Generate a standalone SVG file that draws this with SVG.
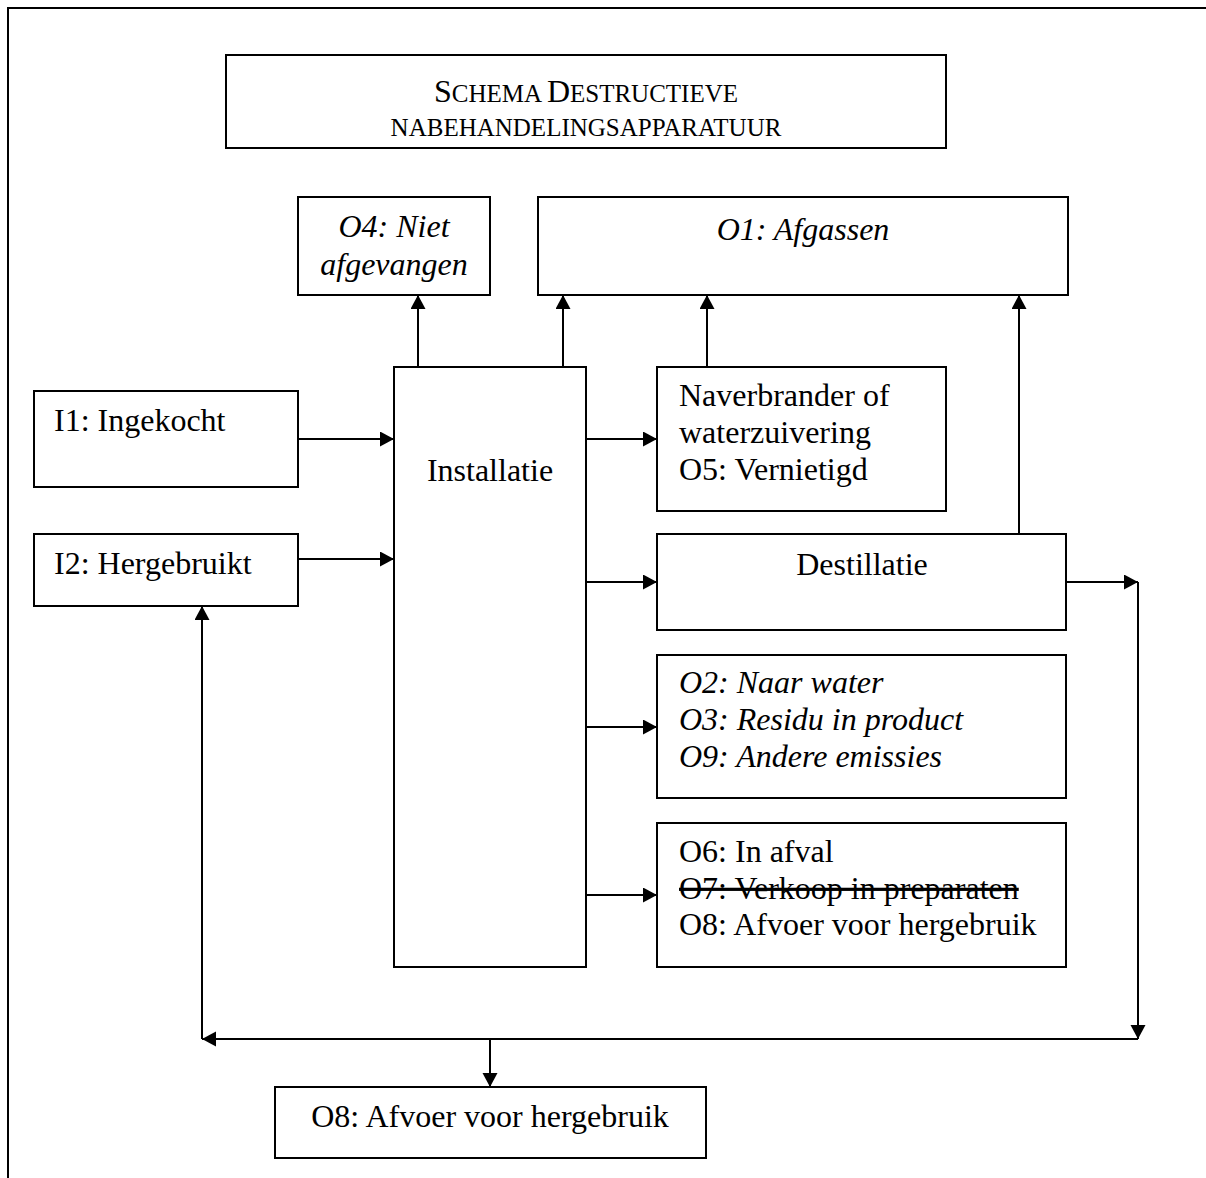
<svg xmlns="http://www.w3.org/2000/svg" width="1206" height="1178" viewBox="0 0 1206 1178">
<style>
  .box { fill: #fff; stroke: #000; stroke-width: 2; }
  .t { font-family: "Liberation Serif", "Times New Roman", serif; font-size: 32px; fill: #000; }
  .i { font-style: italic; }
  .c { text-anchor: middle; }
  .sc { font-size: 25px; }
  .conn line, .conn polyline { stroke: #000; stroke-width: 2; fill: none; }
</style>
<defs>
  <marker id="arr" markerUnits="userSpaceOnUse" markerWidth="16" markerHeight="16" refX="14" refY="7.5" orient="auto">
    <polygon points="0,0 14,7.5 0,15" fill="#000"/>
  </marker>
</defs>
<rect x="0" y="0" width="1206" height="1178" fill="#fff"/>
<rect id="frame" x="8" y="8" width="1230" height="1200" fill="none" stroke="#000" stroke-width="2"/>

<g id="title">
  <rect class="box" x="226" y="55" width="720" height="93"/>
  <text class="t c" x="586" y="102"><tspan>S</tspan><tspan class="sc">CHEMA </tspan><tspan>D</tspan><tspan class="sc">ESTRUCTIEVE</tspan></text>
  <text class="t c sc" x="586" y="136">NABEHANDELINGSAPPARATUUR</text>
</g>

<g id="o4">
  <rect class="box" x="298" y="197" width="192" height="98"/>
  <text class="t i c" x="394" y="237">O4: Niet</text>
  <text class="t i c" x="394" y="275">afgevangen</text>
</g>

<g id="o1">
  <rect class="box" x="538" y="197" width="530" height="98"/>
  <text class="t i c" x="803" y="240">O1: Afgassen</text>
</g>

<g id="i1">
  <rect class="box" x="34" y="391" width="264" height="96"/>
  <text class="t" x="54" y="431">I1: Ingekocht</text>
</g>

<g id="i2">
  <rect class="box" x="34" y="534" width="264" height="72"/>
  <text class="t" x="54" y="574">I2: Hergebruikt</text>
</g>

<g id="installatie">
  <rect class="box" x="394" y="367" width="192" height="600"/>
  <text class="t c" x="490" y="481">Installatie</text>
</g>

<g id="naverbrander">
  <rect class="box" x="657" y="367" width="289" height="144"/>
  <text class="t" x="679" y="406">Naverbrander of</text>
  <text class="t" x="679" y="443">waterzuivering</text>
  <text class="t" x="679" y="480">O5: Vernietigd</text>
</g>

<g id="destillatie">
  <rect class="box" x="657" y="534" width="409" height="96"/>
  <text class="t c" x="862" y="575">Destillatie</text>
</g>

<g id="o2">
  <rect class="box" x="657" y="655" width="409" height="143"/>
  <text class="t i" x="679" y="693">O2: Naar water</text>
  <text class="t i" x="679" y="730">O3: Residu in product</text>
  <text class="t i" x="679" y="767">O9: Andere emissies</text>
</g>

<g id="o6">
  <rect class="box" x="657" y="823" width="409" height="144"/>
  <text class="t" x="679" y="862">O6: In afval</text>
  <text class="t" x="679" y="899" text-decoration="line-through">O7: Verkoop in preparaten</text>
  <text class="t" x="679" y="935">O8: Afvoer voor hergebruik</text>
</g>

<g id="o8">
  <rect class="box" x="275" y="1087" width="431" height="71"/>
  <text class="t c" x="490" y="1127">O8: Afvoer voor hergebruik</text>
</g>

<g id="connectors" class="conn">
  <line x1="298" y1="439" x2="394" y2="439" marker-end="url(#arr)"/>
  <line x1="298" y1="559" x2="394" y2="559" marker-end="url(#arr)"/>
  <line x1="418" y1="367" x2="418" y2="295" marker-end="url(#arr)"/>
  <line x1="563" y1="367" x2="563" y2="295" marker-end="url(#arr)"/>
  <line x1="707" y1="367" x2="707" y2="295" marker-end="url(#arr)"/>
  <line x1="1019" y1="534" x2="1019" y2="295" marker-end="url(#arr)"/>
  <line x1="586" y1="439" x2="657" y2="439" marker-end="url(#arr)"/>
  <line x1="586" y1="582" x2="657" y2="582" marker-end="url(#arr)"/>
  <line x1="586" y1="727" x2="657" y2="727" marker-end="url(#arr)"/>
  <line x1="586" y1="895" x2="657" y2="895" marker-end="url(#arr)"/>
  <line x1="1066" y1="582" x2="1138" y2="582" marker-end="url(#arr)"/>
  <line x1="1138" y1="582" x2="1138" y2="1039" marker-end="url(#arr)"/>
  <line x1="1138" y1="1039" x2="202" y2="1039" marker-end="url(#arr)"/>
  <line x1="202" y1="1039" x2="202" y2="606" marker-end="url(#arr)"/>
  <line x1="490" y1="1039" x2="490" y2="1087" marker-end="url(#arr)"/>
</g>
</svg>
